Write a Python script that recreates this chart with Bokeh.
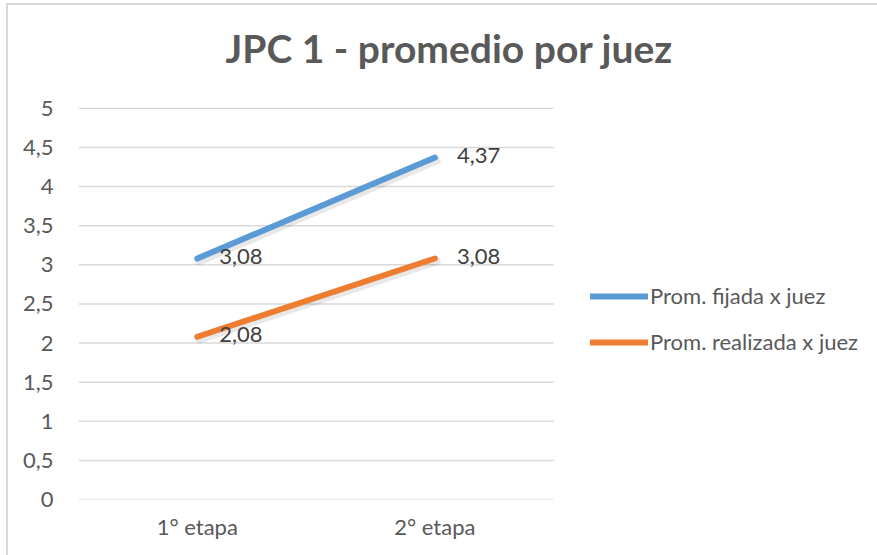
from bokeh.plotting import figure
from bokeh.models import (ColumnDataSource, Legend, LegendItem, Title, Range1d,
                          FixedTicker)
from bokeh.transform import dodge
from bokeh.core.properties import value
from bokeh.embed import file_html
from bokeh.resources import INLINE

categories = ["1° etapa", "2° etapa"]
fijada = [3.08, 4.37]
realizada = [2.08, 3.08]
fijada_labels = ["3,08", "4,37"]
realizada_labels = ["2,08", "3,08"]
y_ticks = [0, 0.5, 1, 1.5, 2, 2.5, 3, 3.5, 4, 4.5, 5]
y_tick_labels = ["0", "0,5", "1", "1,5", "2", "2,5", "3", "3,5", "4", "4,5", "5"]
title_text = "JPC 1 - promedio por juez"
series_names = ["Prom. fijada x juez", "Prom. realizada x juez"]

FONT = "Lato"
GRAY = "#595959"
BLUE = "#5B9BD5"
ORANGE = "#ED7D31"

W, H = 869, 550
LEFT, TOP, BOTTOM = 70, 102, 58
CAT_PX = 237  # width of one category slot in pixels
n = len(categories)
x_pos = [i + 0.5 for i in range(n)]
x_end = (W - LEFT) / CAT_PX

p = figure(width=W, height=H, x_range=Range1d(0, x_end), y_range=(0, 5.01),
           output_backend="svg", toolbar_location=None,
           min_border_left=LEFT, min_border_right=0,
           min_border_top=TOP, min_border_bottom=BOTTOM)
p.outline_line_color = None
p.background_fill_color = "white"
p.border_fill_color = "white"
p.styles = {"border-left": "2px solid #D9D9D9", "border-top": "2px solid #D9D9D9",
            "margin-left": "6px", "margin-top": "3px", "box-sizing": "content-box"}

p.xgrid.grid_line_color = None
p.ygrid.grid_line_color = None
# horizontal gridlines limited to the category area
p.segment(x0=[0] * len(y_ticks), x1=[n] * len(y_ticks), y0=y_ticks, y1=y_ticks,
          line_color="#D9D9D9", line_width=1.5)

p.xaxis.ticker = FixedTicker(ticks=x_pos)
p.xaxis.major_label_overrides = {x: c for x, c in zip(x_pos, categories)}
p.yaxis.ticker = FixedTicker(ticks=y_ticks)
p.yaxis.major_label_overrides = {t: l for t, l in zip(y_ticks, y_tick_labels)}
for ax in (p.xaxis, p.yaxis):
    ax.axis_line_color = None
    ax.major_tick_line_color = None
    ax.minor_tick_line_color = None
    ax.major_label_text_font = FONT
    ax.major_label_text_font_size = "22px"
    ax.major_label_text_color = GRAY
p.yaxis.major_label_standoff = 19
p.xaxis.major_label_standoff = 7

src = ColumnDataSource(dict(x=x_pos, f=fijada, r=realizada,
                            fl=fijada_labels, rl=realizada_labels))

# soft shadows
for ycol in ("f", "r"):
    p.line(dodge("x", 0.008), dodge(ycol, -0.035), source=src, line_color="black",
           line_alpha=0.09, line_width=8, line_cap="round")

r1 = p.line("x", "f", source=src, line_color=BLUE, line_width=6, line_cap="round")
r2 = p.line("x", "r", source=src, line_color=ORANGE, line_width=6, line_cap="round")

for col, ycol in (("fl", "f"), ("rl", "r")):
    p.text("x", ycol, text=col, source=src, x_offset=22, y_offset=-2,
           text_font=value(FONT), text_font_size="22px", text_color="#404040",
           text_baseline="middle", text_align="left")

legend = Legend(items=[LegendItem(label=series_names[0], renderers=[r1]),
                       LegendItem(label=series_names[1], renderers=[r2])],
                location=(512, 144), orientation="vertical",
                glyph_width=58, glyph_height=20, label_standoff=2, spacing=19,
                padding=0, margin=0, border_line_color=None,
                background_fill_alpha=0,
                label_text_font=FONT, label_text_font_size="22px",
                label_text_color=GRAY, label_height=20)
p.add_layout(legend, "center")

# spacer between frame and title, then the title
p.add_layout(Title(text=" ", text_font_size="20px", standoff=0), "above")
title = Title(text=title_text, align="left", offset=147, standoff=26,
              text_font=FONT, text_font_style="bold", text_font_size="39px",
              text_color=GRAY)
p.add_layout(title, "above")

open("out.html", "w").write(file_html(p, INLINE))
